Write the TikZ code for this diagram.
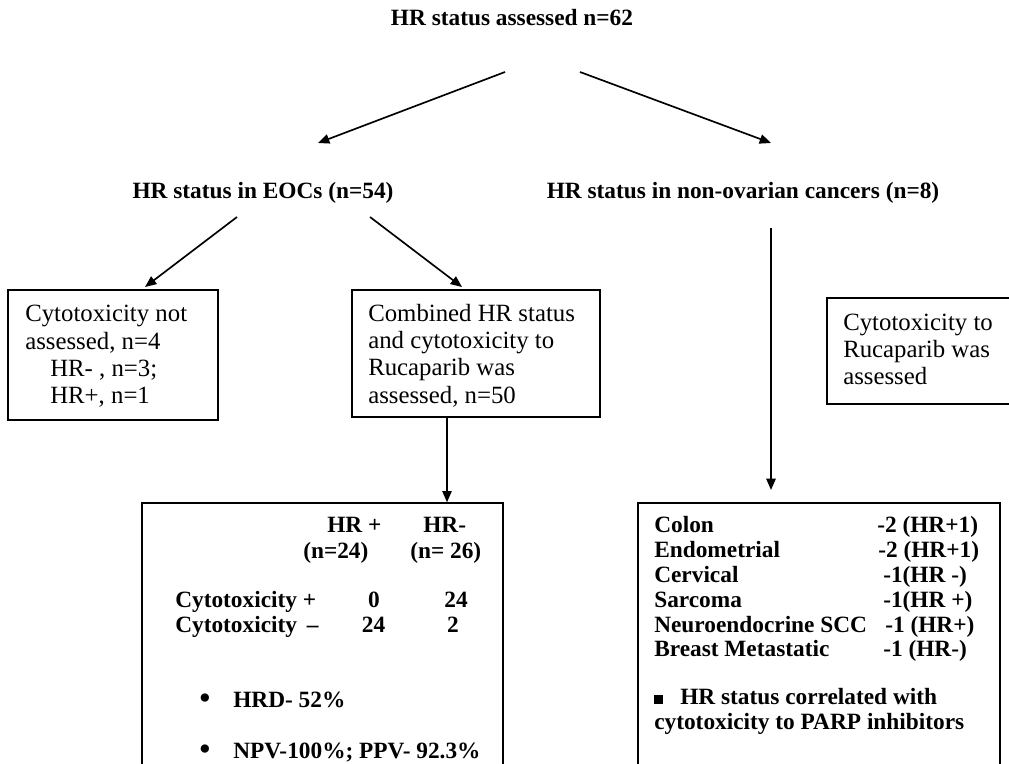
\documentclass[tikz,border=0pt]{standalone}
\usepackage{fontspec}
\setmainfont{Liberation Serif}
\usetikzlibrary{arrows.meta,fit}
\begin{document}
\begin{tikzpicture}[x=0.75pt,y=-0.75pt,
  tx/.style={font=\fontsize{18.6}{21}\selectfont, inner sep=0pt, anchor=base west},
  bx/.style={tx, font=\fontsize{17.5}{21}\selectfont\bfseries},
  bul/.style={inner sep=0pt, anchor=base, font=\fontsize{26}{26}\selectfont},
  box/.style={draw=black, line width=1pt, inner sep=0pt},
  arr/.style={line width=1.25pt, -{Triangle[length=8.5pt,width=7pt]}}]
\clip (0,0) rectangle (1009,763);
\fill[white] (0,0) rectangle (1009,763);

% headings
\node[bx, anchor=base] (title) at (512,26) {HR status assessed n=62};
\node[bx, anchor=base] (eoc) at (263,198) {HR status in EOCs (n=54)};
\node[bx, anchor=base] (nonov) at (743,198) {HR status in non-ovarian cancers (n=8)};

% boxes
\node[box, fit={(8,290)(218,420)}] (nb) {};
\node[box, fit={(352,290)(600,417)}] (cb) {};
\node[box, fit={(827,298)(1020,404)}] (rb) {};
\node[box, fit={(142,503)(503,800)}] (tb) {};
\node[box, fit={(638,503)(1000,800)}] (lb) {};

% arrow end points
\coordinate (a1s) at (505,72);  \coordinate (a1e) at (318,143);
\coordinate (a2s) at (580,72);  \coordinate (a2e) at (771,143);
\coordinate (b1s) at (237,217); \coordinate (b2s) at (370,217);
\coordinate (b1e) at (145,287); \coordinate (b2e) at (462,287);
\coordinate (m1) at (447,417);
\coordinate (r1) at (771,228);  \coordinate (r2) at (771,490);

\draw[arr] (a1s) -- (a1e);
\draw[arr] (a2s) -- (a2e);
\draw[arr] (b1s) -- (b1e);
\draw[arr] (b2s) -- (b2e);
\draw[arr] (m1) -- (m1 |- tb.north);
\draw[arr] (r1) -- (r2);

% left box text
\node[tx] (nb1) at (25,321) {Cytotoxicity not};
\node[tx] (nb2) at (25,349) {assessed, n=4};
\node[tx] (nb3) at (50,376) {HR- , n=3;};
\node[tx] (nb4) at (50,403) {HR+, n=1};

% middle box text
\node[tx] (cb1) at (368,321) {Combined HR status};
\node[tx] (cb2) at (368,348) {and cytotoxicity to};
\node[tx] (cb3) at (368,375) {Rucaparib was};
\node[tx] (cb4) at (368,403) {assessed, n=50};

% right box text
\node[tx] (rb1) at (843,330) {Cytotoxicity to};
\node[tx] (rb2) at (843,357) {Rucaparib was};
\node[tx] (rb3) at (843,384) {assessed};

% bottom middle box
\node[bx] (h1) at (327,532) {HR +};
\node[bx] (h2) at (423,532) {HR-};
\node[bx] (n1) at (303,558) {(n=24)};
\node[bx] (n2) at (410,558) {(n= 26)};
\node[bx] (c1) at (175,607) {Cytotoxicity +};
\node[bx] (c2) at (175,632) {Cytotoxicity \,--};
\node[bx, anchor=base] (v11) at (374,607) {0};
\node[bx, anchor=base] (v12) at (456,607) {24};
\node[bx, anchor=base] (v21) at (373.5,632) {24};
\node[bx, anchor=base] (v22) at (453,632) {2};
\node[bul] (bu1) at (205,709) {•};
\node[bx] (s1) at (233,707) {HRD- 52\%};
\node[bul] (bu2) at (205,760) {•};
\node[bx] (s2) at (233,758) {NPV-100\%; PPV- 92.3\%};

% bottom right box
\node[bx] (k1) at (654,532) {Colon};
\node[bx] (k2) at (654,557) {Endometrial};
\node[bx] (k3) at (654,582) {Cervical};
\node[bx] (k4) at (654,607) {Sarcoma};
\node[bx] (k5) at (654,632) {Neuroendocrine SCC};
\node[bx] (k6) at (654,656) {Breast Metastatic};
\node[bx] (w1) at (877,532) {-2 (HR+1)};
\node[bx] (w2) at (878,557) {-2 (HR+1)};
\node[bx] (w3) at (883,582) {-1(HR -)};
\node[bx] (w4) at (883,607) {-1(HR +)};
\node[bx] (w5) at (885,632) {-1 (HR+)};
\node[bx] (w6) at (883,656) {-1 (HR-)};
\node[tx] (sq) at (654,704) {\rule{6.8pt}{6.8pt}};
\node[bx] (p1) at (680,704) {HR status correlated with};
\node[bx] (p2) at (654,729) {cytotoxicity to PARP inhibitors};
\end{tikzpicture}
\end{document}
